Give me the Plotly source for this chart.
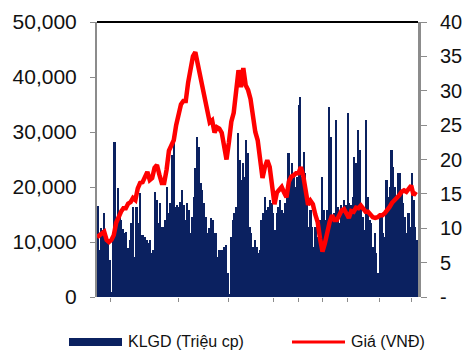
import plotly.graph_objects as go

# Trading volume (KLGD, "Triệu cp"), in order (thousands)
vol_part1 = [16.5, 8.5, 12.5, 12.2, 15.3, 11.6, 10.4, 6.7, 1.0, 10.4, 28.2, 14.0, 19.8, 15.3, 14.0, 12.4,
             11.6, 11.8, 8.9, 10.4, 13.5, 16.4, 7.3, 16.4, 13.5, 18.9, 11.3, 11.3, 10.9, 10.4, 9.8, 10.4,
             8.0, 8.5, 19.1, 17.6, 13.5, 17.1, 12.7, 12.7, 14.0, 20.0, 15.3, 17.1, 25.8, 29.1, 16.4]
vol_part2 = [16.7, 16.4, 17.3, 19.5, 16.7, 14.0, 17.1, 15.8, 11.6, 14.5, 18.2, 23.5, 29.1, 27.3, 20.7, 19.5,
             17.1, 14.5, 11.6, 12.5, 14.4, 14.0, 11.6, 11.6, 7.3, 8.5, 8.5, 8.5, 9.1, 9.5, 4.4, 0.5,
             10.9, 14.0, 15.3, 16.4, 29.8, 24.9, 21.3, 24.4, 21.8, 28.5, 26.2, 12.7, 11.6, 9.1, 10.4, 9.1]
vol_part3 = [8.0, 8.5, 14.0, 15.3, 18.2, 15.8, 16.4, 17.6, 17.1, 15.3, 12.2, 15.3, 16.4, 17.6, 15.8, 15.3,
             17.1, 20.0, 26.2, 21.8, 24.4, 22.5, 20.0, 21.8, 34.9, 36.4, 21.8, 26.4, 22.5, 18.2, 12.7, 15.8,
             12.7, 9.1, 12.7, 10.9, 14.0, 14.0, 21.8, 15.8, 14.0, 15.8, 34.5, 29.1, 14.0, 15.3]
vol_part4 = [32.2, 16.4, 13.5, 16.7, 15.3, 17.6, 16.7, 33.5, 17.1, 16.7, 18.2, 25.5, 24.4, 30.4, 26.7, 17.1,
             14.5, 12.2, 32.2, 18.2, 14.0, 13.5, 9.1, 11.6, 8.0, 4.4, 14.5, 14.5, 11.6, 10.9, 21.3, 18.2,
             20.0, 26.7, 23.6, 20.0, 17.6, 22.5, 22.5, 18.9, 17.1, 14.5, 11.6, 15.3, 12.7, 22.5, 17.6, 12.7, 10.4]
volume = [v * 1000 for v in vol_part1 + vol_part2 + vol_part3 + vol_part4]

# Price (Giá, VNĐ thousand)
price_part1 = [8.7, 9.0, 9.2, 9.5, 8.3, 8.0, 8.3, 9.0, 10.8, 11.8, 12.4, 12.9, 12.9, 13.6, 13.8, 14.4, 14.1,
               15.8, 16.6, 16.7, 17.5, 18.2, 17.0, 17.3, 18.8, 19.2, 17.8, 16.6, 16.6, 18.5, 21.3, 22.2, 22.8, 25.0]
price_part2 = [26.5, 28.0, 28.5, 28.5, 31.2, 32.8, 35.0, 35.6, 33.8, 32.2, 30.9, 28.5, 27.2, 25.4, 25.7, 23.9,
               24.7, 24.5, 23.9, 21.4, 20.0, 22.5, 25.5, 26.8, 30.5, 33.0, 30.5, 33.3, 30.8, 30.1, 28.8, 26.0, 24.0]
price_part3 = [22.8, 19.9, 17.3, 18.9, 19.9, 18.9, 16.5, 13.5, 15.2, 15.6, 16.0, 15.2, 14.5, 16.8, 17.5, 17.7,
               18.0, 18.0, 18.9, 17.6, 15.6, 13.4, 14.0, 13.5, 12.0, 10.9, 8.5, 6.6, 7.8, 9.8, 10.9, 11.9, 11.2]
price_part4 = [11.2, 11.9, 12.6, 12.8, 12.0, 11.5, 12.5, 12.4, 13.0, 12.9, 13.3, 12.9, 12.4, 12.4, 11.9, 11.6,
               11.5, 11.6, 11.9, 11.9, 12.2, 12.6, 13.1, 13.7, 14.0, 14.4, 14.8, 15.3, 15.5, 15.3, 15.8, 16.2, 14.8, 15.3]
price = price_part1 + price_part2 + price_part3 + price_part4

# Category tick positions along the bottom axis (session index)
x_tick_positions = [7.7, 47.6, 77.4, 104, 119, 133, 147.6, 166.7, 185.7]

left_ticks = [0, 10000, 20000, 30000, 40000, 50000]
right_ticks = [0, 5, 10, 15, 20, 25, 30, 35, 40]
right_ticktext = ["-", "5", "10", "15", "20", "25", "30", "35", "40"]

legend_names = ["KLGD (Triệu cp)", "Giá (VNĐ)"]

BAR_COLOR = "#0b2160"
LINE_COLOR = "#ff0000"
AXIS_GREY = "#8c8c8c"
FONT = "Liberation Sans, Arial, sans-serif"

W, H = 466, 351
ML, MR, MT, MB = 97, 48, 22, 54
PW, PH = W - ML - MR, H - MT - MB

fig = go.Figure()
fig.add_trace(go.Bar(x=list(range(len(volume))), y=volume, marker=dict(color=BAR_COLOR, line=dict(width=0)),
                     name=legend_names[0], xaxis="x", yaxis="y", showlegend=False))
fig.add_trace(go.Scatter(x=list(range(len(price))), y=price, mode="lines",
                         line=dict(color=LINE_COLOR, width=4.5), name=legend_names[1],
                         xaxis="x2", yaxis="y2", showlegend=False))


def px_x(x):
    return (x - ML) / PW


def px_y(y):
    return (H - MB - y) / PH


fig.update_layout(
    width=W, height=H,
    margin=dict(l=ML, r=MR, t=MT, b=MB, pad=0, autoexpand=False),
    paper_bgcolor="white", plot_bgcolor="white",
    bargap=0,
    font=dict(family=FONT, color="#111111"),
    xaxis=dict(range=[-0.5, len(volume) - 0.5], showgrid=False, zeroline=False, showline=False,
               tickvals=x_tick_positions, ticktext=[""] * len(x_tick_positions),
               ticks="outside", ticklen=4, tickcolor=AXIS_GREY, tickwidth=1, automargin=False),
    xaxis2=dict(range=[0, (len(price) - 1) * PW / (PW - 2)], overlaying="x", visible=False),
    yaxis=dict(range=[0, 50000], tickvals=left_ticks, tickformat=",", showgrid=False, zeroline=False,
               showline=True, linecolor=AXIS_GREY, linewidth=2, ticks="outside", ticklen=5,
               tickcolor=AXIS_GREY, tickwidth=1, tickfont=dict(size=21, color="#111111"),
               ticklabelstandoff=9, automargin=False),
    yaxis2=dict(range=[0, 40], overlaying="y", side="right", tickvals=right_ticks, ticktext=right_ticktext,
                showgrid=False, zeroline=False, showline=True, linecolor=AXIS_GREY, linewidth=3,
                ticks="outside", ticklen=6, tickcolor=AXIS_GREY, tickwidth=1,
                tickfont=dict(size=20, color="#111111"), ticklabelstandoff=9, automargin=False),
    shapes=[
        dict(type="line", xref="paper", yref="paper", x0=0, x1=1, y0=1, y1=1,
             line=dict(color="black", width=2)),
        dict(type="rect", xref="paper", yref="paper", x0=px_x(69), x1=px_x(122), y0=px_y(346), y1=px_y(338),
             fillcolor=BAR_COLOR, line=dict(width=0)),
        dict(type="line", xref="paper", yref="paper", x0=px_x(292), x1=px_x(345), y0=px_y(342), y1=px_y(342),
             line=dict(color=LINE_COLOR, width=3)),
    ],
    annotations=[
        dict(text=legend_names[0], xref="paper", yref="paper", x=px_x(126), y=px_y(341),
             xanchor="left", yanchor="middle", showarrow=False, font=dict(size=16, color="#111111")),
        dict(text=legend_names[1], xref="paper", yref="paper", x=px_x(349), y=px_y(341),
             xanchor="left", yanchor="middle", showarrow=False, font=dict(size=16, color="#111111")),
    ],
)

fig.write_html("out.html")
